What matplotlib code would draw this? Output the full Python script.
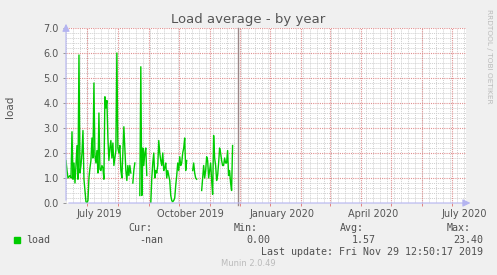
import numpy as np
import pandas as pd
import matplotlib
matplotlib.use('Agg')
import matplotlib.pyplot as plt
import matplotlib.dates as mdates
from matplotlib.patches import Rectangle

### DATA

start = '2019-06-10'
nan = np.nan
load = [1.7, 1.3, 1.0, 1.05, 1.1, 1.0, 2.85, 0.95, 1.6, 0.8,
        1.5, 2.3, 0.95, 5.92, 1.2, 1.5, 2.0, 2.9, 0.95, 0.5,
        0.05, 0.0, 0.1, 1.0, 1.4, 1.7, 2.6, 1.8, 4.8, 1.9,
        1.6, 2.1, 1.2, 3.6, 1.35, 1.3, 1.5, 1.4, 0.95, 4.25,
        3.8, 4.1, 2.6, 1.7, 2.2, 2.5, 1.8, 2.4, 1.5, 1.8,
        2.1, 6.0, 2.2, 2.0, 2.3, 1.3, 1.0, 2.0, 3.05, 2.2,
        1.3, 0.9, 1.5, 1.1, 1.5, 1.2, nan, 0.8, 1.3, 1.6,
        nan, nan, nan, nan, 0.3, 5.45, 0.3, 2.2, 1.5, 2.0,
        2.2, 1.1, nan, nan, nan, 0.0, 1.0, 1.6, 2.0, 1.0,
        1.3, 1.2, 1.5, 2.5, 2.0, 1.7, 1.5, 2.0, 1.3, 1.4,
        1.6, 1.0, 1.3, 1.1, 0.9, 0.3, 0.1, 0.05, 0.1, 0.2,
        0.7, 1.1, 1.6, 1.3, 1.85, 1.5, 1.6, 2.0, 2.2, 2.6,
        1.3, 1.7, nan, nan, nan, nan, nan, 1.3, 1.6, 1.2,
        1.0, 0.95, nan, nan, nan, nan, 0.5, 1.0, 1.5, 1.0,
        1.3, 1.85, 1.7, 1.0, 1.3, 1.6, 0.9, 0.35, 2.7, 1.8,
        1.5, 0.9, 1.1, 1.6, 2.2, 2.0, 1.7, 1.5, 1.5, 1.8,
        1.6, 1.6, 2.1, 1.1, 1.3, 0.8, 0.5, 2.3]
dates = pd.date_range(start, periods=len(load), freq='D')

x_labels = ['July 2019', 'October 2019', 'January 2020', 'April 2020', 'July 2020']
x_label_dates = pd.to_datetime(['2019-07-13', '2019-10-13', '2020-01-13', '2020-04-13', '2020-07-13'])
now = pd.Timestamp('2019-11-29 12:50')

legend_cols = ['Cur:', 'Min:', 'Avg:', 'Max:']
legend_vals = ['-nan', '0.00', '1.57', '23.40']

### FIGURE

W, H = 497, 275
fig = plt.figure(figsize=(W / 100, H / 100), dpi=100, facecolor='#f0f0f0')
ax = fig.add_axes([66 / W, 72 / H, 400 / W, 175 / H], facecolor='white')

x0 = pd.Timestamp(start)
x1 = x0 + pd.Timedelta(days=401)
ax.set_xlim(x0, x1)
ax.set_ylim(0, 7)

dots = (0, (1, 1))
# minor grid: weeks and 0.2 steps
for d in pd.date_range(x0, x1, freq='W-MON'):
    ax.axvline(d, color='#cfcfcf', lw=0.7, ls=dots, zorder=1)
for v in np.arange(0.2, 7, 0.2):
    if abs(v - round(v)) > 0.01:
        ax.axhline(v, color='#cfcfcf', lw=0.7, ls=dots, zorder=1)
# major grid: months and whole units
for d in pd.date_range(x0, x1, freq='MS'):
    ax.axvline(d, color='#e09090', lw=0.8, ls=dots, zorder=2)
for v in range(1, 8):
    ax.axhline(v, color='#e09090', lw=0.8, ls=dots, zorder=2)

ax.plot(dates, load, color='#00cc00', lw=1.0, zorder=4)
ax.axvline(now, ymin=-0.01, color='#9a8888', lw=1.0, zorder=5, clip_on=False)

for s in ax.spines.values():
    s.set_visible(False)

ax.set_xticks(x_label_dates)
ax.set_xticklabels(x_labels)
ax.xaxis.set_minor_locator(mdates.MonthLocator())
ax.tick_params(axis='x', which='major', length=0, pad=4, labelsize=7, labelcolor='#555555')
ax.tick_params(axis='x', which='minor', length=2, width=0.6, color='#e07070', direction='out')
ax.set_yticks(range(8))
ax.set_yticklabels([f'{v:.1f}' for v in range(8)])
ax.tick_params(axis='y', length=2, width=0.6, color='#888888', pad=3, labelsize=7, labelcolor='#555555')

# axis lines with arrows
ax.annotate('', xy=(1.018, 0), xytext=(0, 0), xycoords='axes fraction',
            arrowprops=dict(arrowstyle='-|>,head_length=0.45,head_width=0.22', color='#b4b4f0', lw=0.8), zorder=6)
ax.annotate('', xy=(0, 1.04), xytext=(0, 0), xycoords='axes fraction',
            arrowprops=dict(arrowstyle='-|>,head_length=0.45,head_width=0.22', color='#b4b4f0', lw=0.8), zorder=6)

def ftext(x, y, s, **kw):
    fig.text(x / W, 1 - y / H, s, **kw)

ftext(248, 19, 'Load average - by year', ha='center', va='center', fontsize=9.5, color='#555555')
ftext(10, 107, 'load', ha='center', va='center', rotation=90, fontsize=7.5, color='#555555')
ftext(489, 56, 'RRDTOOL / TOBI OETIKER', ha='center', va='center', rotation=270, fontsize=5.3, color='#bbbbbb')

mono = dict(family='DejaVu Sans Mono', fontsize=7.2, color='#505050', va='center')
fig.add_artist(Rectangle((14 / W, 1 - 243 / H), 6 / W, 6 / H, transform=fig.transFigure, color='#00cc00'))
ftext(26, 240, 'load', ha='left', **mono)
for lx, lab in zip([128, 234, 340, 447], legend_cols):
    ftext(lx, 228, lab, ha='left', **mono)
for rx, val in zip([163, 270, 376, 483], legend_vals):
    ftext(rx, 240, val, ha='right', **mono)
ftext(483, 252, 'Last update: Fri Nov 29 12:50:17 2019', ha='right', **mono)
ftext(248, 263, 'Munin 2.0.49', ha='center', va='center', fontsize=6, color='#bbbbbb')

fig.savefig('out.png', dpi=100, facecolor=fig.get_facecolor())
